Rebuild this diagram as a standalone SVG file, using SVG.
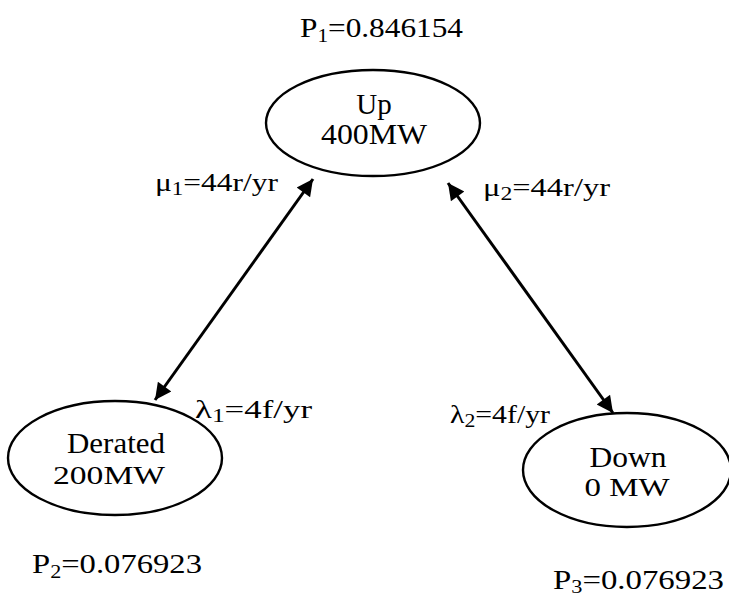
<svg xmlns="http://www.w3.org/2000/svg" width="729" height="599" viewBox="0 0 729 599">
  <defs>
    <marker id="head" viewBox="0 0 10 10" refX="10" refY="5" markerWidth="7" markerHeight="5.5" markerUnits="strokeWidth" orient="auto-start-reverse">
      <path d="M0,0 L10,5 L0,10 z" fill="#000"/>
    </marker>
    <style>
      .state { fill: #fff; stroke: #000; stroke-width: 2.4; }
      .name { font-family: "Liberation Serif", "Times New Roman", serif; font-size: 29px; fill: #000; text-anchor: middle; }
      .cap { font-size: 25px; }
      .rate { font-family: "Liberation Serif", "Times New Roman", serif; font-size: 26px; fill: #000; }
      .prob { font-family: "Liberation Serif", "Times New Roman", serif; font-size: 28px; fill: #000; }
      .sub { font-size: 19px; }
      .link { fill: none; stroke: #000; stroke-width: 3; marker-start: url(#head); marker-end: url(#head); }
    </style>
  </defs>
  <rect width="729" height="599" fill="#fff"/>

  <!-- transitions between states -->
  <g id="connectors">
    <line class="link" x1="155" y1="400" x2="313" y2="179"/>
    <line class="link" x1="448" y1="183" x2="613" y2="413"/>
  </g>

  <g id="state-up">
    <ellipse class="state" cx="373" cy="123" rx="107" ry="53"/>
    <text class="name" x="374" y="114">Up</text>
    <text class="name" x="374" y="144" textLength="106" lengthAdjust="spacingAndGlyphs">400MW</text>
    <text class="prob" x="300" y="37" textLength="163" lengthAdjust="spacingAndGlyphs">P<tspan class="sub" dy="5">1</tspan><tspan dy="-5">=0.846154</tspan></text>
  </g>

  <g id="state-derated">
    <ellipse class="state" cx="115" cy="458" rx="107" ry="57"/>
    <text class="name" x="116" y="453" textLength="98" lengthAdjust="spacingAndGlyphs">Derated</text>
    <text class="name cap" x="109" y="484" textLength="112" lengthAdjust="spacingAndGlyphs">200MW</text>
    <text class="prob" x="32" y="573" textLength="170" lengthAdjust="spacingAndGlyphs">P<tspan class="sub" dy="5">2</tspan><tspan dy="-5">=0.076923</tspan></text>
  </g>

  <g id="state-down">
    <ellipse class="state" cx="627" cy="470" rx="104" ry="57"/>
    <text class="name" x="628" y="467" textLength="77" lengthAdjust="spacingAndGlyphs">Down</text>
    <text class="name cap" x="627" y="496" textLength="85" lengthAdjust="spacingAndGlyphs">0 MW</text>
    <text class="prob" x="553" y="589" textLength="171" lengthAdjust="spacingAndGlyphs">P<tspan class="sub" dy="4">3</tspan><tspan dy="-4">=0.076923</tspan></text>
  </g>

  <g id="rates">
    <text class="rate" x="155" y="191" textLength="123" lengthAdjust="spacingAndGlyphs">μ<tspan class="sub" dy="4">1</tspan><tspan dy="-4">=44r/yr</tspan></text>
    <text class="rate" x="483" y="196" textLength="127" lengthAdjust="spacingAndGlyphs">μ<tspan class="sub" dy="4">2</tspan><tspan dy="-4">=44r/yr</tspan></text>
    <text class="rate" x="195" y="418" textLength="117" lengthAdjust="spacingAndGlyphs">λ<tspan class="sub" dy="4">1</tspan><tspan dy="-4">=4f/yr</tspan></text>
    <text class="rate" x="450" y="423" textLength="100" lengthAdjust="spacingAndGlyphs">λ<tspan class="sub" dy="4">2</tspan><tspan dy="-4">=4f/yr</tspan></text>
  </g>
</svg>
